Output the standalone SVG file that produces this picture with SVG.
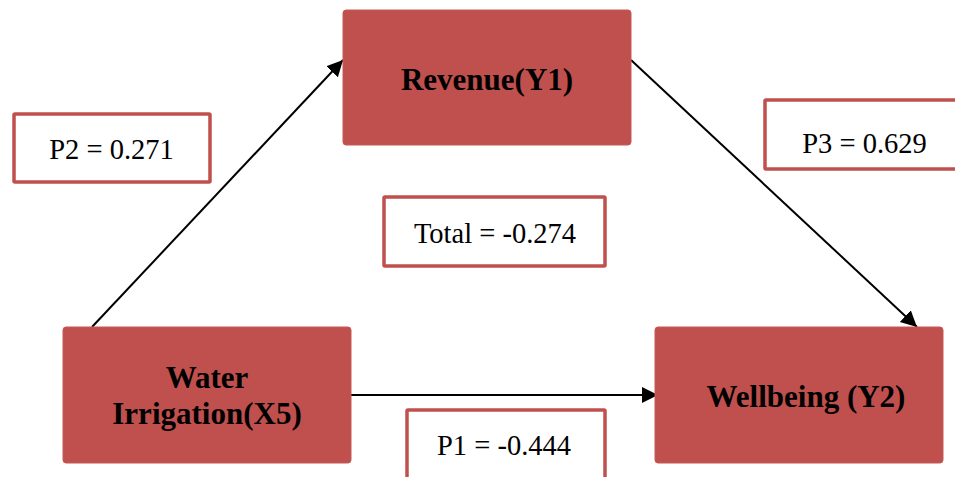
<svg xmlns="http://www.w3.org/2000/svg" width="955" height="477" viewBox="0 0 955 477">
<defs>
<style>
.node{fill:#C0504D;stroke:#C55A57;stroke-width:1}
.lbl{fill:#FFFFFF;stroke:#C0504D;stroke-width:3.5}
.nt{font-family:"Liberation Serif","Times New Roman",serif;font-weight:bold;font-size:31px;fill:#000;text-anchor:middle}
.lt{font-family:"Liberation Serif","Times New Roman",serif;font-size:28.5px;fill:#000;text-anchor:middle}
.edge{stroke:#000;stroke-width:2;fill:none}
</style>
<marker id="ah" markerUnits="userSpaceOnUse" markerWidth="18" markerHeight="18" viewBox="0 0 18 18" refX="16" refY="9" orient="auto">
<path d="M0,1 L16,9 L0,17 Z" fill="#000"/>
</marker>
</defs>
<rect width="955" height="477" fill="#FFFFFF"/>
<g id="connectors">
<line class="edge" x1="92" y1="327" x2="343" y2="60" marker-end="url(#ah)"/>
<line class="edge" x1="631" y1="60" x2="917" y2="327" marker-end="url(#ah)"/>
<line class="edge" x1="347" y1="395" x2="658" y2="395" marker-end="url(#ah)"/>
</g>
<g id="revenue">
<rect class="node" x="343" y="10" width="288" height="135" rx="3"/>
<text class="nt" x="487" y="90">Revenue(Y1)</text>
</g>
<g id="water">
<rect class="node" x="63" y="327" width="288" height="136" rx="3"/>
<text class="nt" x="207" y="388">Water</text>
<text class="nt" x="207" y="424">Irrigation(X5)</text>
</g>
<g id="wellbeing">
<rect class="node" x="655" y="327" width="288" height="136" rx="3"/>
<text class="nt" x="806" y="407">Wellbeing (Y2)</text>
</g>
<g id="p2">
<rect class="lbl" x="14" y="114" width="196" height="68" rx="1"/>
<text class="lt" x="111.5" y="159">P2 = 0.271</text>
</g>
<g id="p3">
<rect class="lbl" x="765" y="100" width="200" height="69" rx="1"/>
<text class="lt" x="864.5" y="153">P3 = 0.629</text>
</g>
<g id="total">
<rect class="lbl" x="384" y="197" width="221" height="69" rx="1"/>
<text class="lt" x="495" y="243">Total = -0.274</text>
</g>
<g id="p1">
<rect class="lbl" x="407" y="410" width="198" height="80" rx="1"/>
<text class="lt" x="504" y="455">P1 = -0.444</text>
</g>
</svg>
